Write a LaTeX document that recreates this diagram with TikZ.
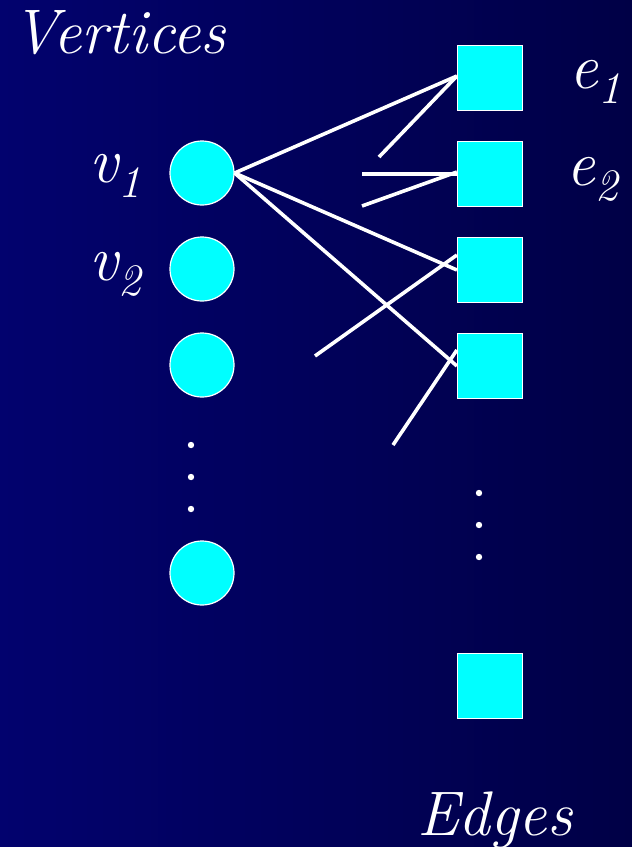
\documentclass[tikz,border=0pt]{standalone}
\usepackage{fontspec}
\usetikzlibrary{positioning}

\definecolor{bgleft}{RGB}{2,2,110}
\definecolor{bgright}{RGB}{0,0,70}
\definecolor{nodecyan}{RGB}{0,255,255}

% label with a lowered subscript, sizes in px (1pt = 1px here)
\newcommand{\SubLabel}[2]{\fontsize{64}{64}\selectfont\itshape #1\raisebox{-15pt}{\fontsize{45}{45}\selectfont #2}}

\tikzset{
    vertex/.style={circle, fill=nodecyan, draw=white, line width=1.2pt, minimum size=64pt, inner sep=0pt},
    edgebox/.style={rectangle, fill=nodecyan, draw=white, line width=1.2pt, minimum size=65pt, inner sep=0pt},
    link/.style={white, line width=3.6pt},
    bigtext/.style={text=white, font=\fontsize{63}{63}\selectfont\itshape, inner sep=0pt},
    sublbl/.style={text=white, inner sep=0pt},
    moredots/.style={white}
}

\begin{document}
\begin{tikzpicture}[x=1pt,y=-1pt]

% Background
\shade[left color=bgleft, right color=bgright] (0,0) rectangle (632,847);
\useasboundingbox (0,0) rectangle (632,847);

% =====================================================
% VERTICES
% =====================================================
\node[bigtext, anchor=base west] (vtitle) at (12,53) {Vertices};

\node[vertex] (v1) at (202,173) {};
\node[vertex] (v2) at (202,269) {};
\node[vertex] (v3) at (202,365) {};
\node[vertex] (vn) at (202,573) {};

\node[sublbl, anchor=base east] (v1lbl) at (141,182) {\SubLabel{v}{1}};
\node[sublbl, anchor=base east] (v2lbl) at (141,280) {\SubLabel{v}{2}};

\foreach \y in {445,477,509} {
    \fill[moredots] (191,\y) circle (3.2);
}

% =====================================================
% EDGES
% =====================================================
\node[edgebox] (e1) at (490,78) {};
\node[edgebox] (e2) at (490,174) {};
\node[edgebox] (e3) at (490,270) {};
\node[edgebox] (e4) at (490,366) {};
\node[edgebox] (em) at (490,686) {};

\node[sublbl, anchor=base west] (e1lbl) at (569,88) {\SubLabel{e}{1}};
\node[sublbl, anchor=base west] (e2lbl) at (566,185) {\SubLabel{e}{2}};

\foreach \y in {493,525,557} {
    \fill[moredots] (479,\y) circle (3.2);
}

\node[bigtext, anchor=base west] (etitle) at (417,835) {Edges};

% =====================================================
% INCIDENCES
% =====================================================
\coordinate (f1) at (379,157);
\coordinate (f2) at (362,174);
\coordinate (f3) at (362,206);
\coordinate (f4) at (315,356);
\coordinate (f5) at (393,445);

\draw[link] (v1.east) -- ([yshift=2pt]e1.west);
\draw[link] (f1) -- ([yshift=2pt]e1.west);
\draw[link] (f2) -- (e2.west);
\draw[link] (f3) -- ([yshift=2pt]e2.west);
\draw[link] (v1.east) -- (e3.west);
\draw[link] (f4) -- ([yshift=15pt]e3.west);
\draw[link] (v1.east) -- (e4.west);
\draw[link] (f5) -- ([yshift=16pt]e4.west);

\end{tikzpicture}
\end{document}
